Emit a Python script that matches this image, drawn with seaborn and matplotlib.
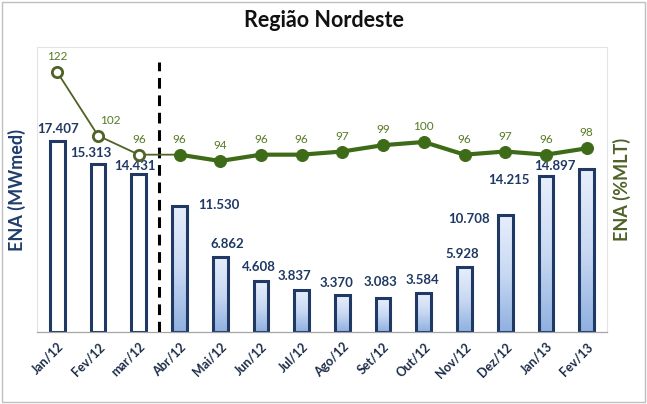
import numpy as np
import pandas as pd
import seaborn as sns
import matplotlib.pyplot as plt
from matplotlib.patches import Rectangle

meses = ['Jan/12', 'Fev/12', 'mar/12', 'Abr/12', 'Mai/12', 'Jun/12', 'Jul/12',
         'Ago/12', 'Set/12', 'Out/12', 'Nov/12', 'Dez/12', 'Jan/13', 'Fev/13']
ena_mwmed = [17407, 15313, 14431, 11530, 6862, 4608, 3837,
             3370, 3083, 3584, 5928, 10708, 14215, 14897]
ena_mlt = [122, 102, 96, 96, 94, 96, 96, 97, 99, 100, 96, 97, 96, 98]
n_verificado = 3  # primeiros meses (barras brancas / marcadores vazados)

# deslocamento dos rotulos das barras (pixels, centro do texto) - ajustados a mao
desloc_barras = [(1, 11), (-7, 10), (-4, 7), (39, 0), (7, 12), (-2, 13), (-7, 13),
                 (-6, 11), (-3, 15), (-1, 12), (-2, 12), (-36, -5), (-37, -5), (-32, 2)]

azul = '#1F3864'
verde = '#3E6B18'
verde_rot = '#557A22'

sns.set_style('white')
plt.rcParams['font.family'] = ['Lato', 'DejaVu Sans']

df = pd.DataFrame({'mes': meses, 'ena': ena_mwmed, 'mlt': ena_mlt})
df['pos'] = np.arange(len(df))

fig = plt.figure(figsize=(6.47, 4.04), dpi=100)
ax = fig.add_axes([37 / 647, 72 / 404, 570 / 647, 285 / 404])

sns.barplot(data=df, x='mes', y='ena', color='white', edgecolor=azul,
            linewidth=2.2, width=0.36, saturation=1, ax=ax)

# gradiente nas barras de abril em diante
grad = np.linspace(0, 1, 256).reshape(-1, 1)
cmap = sns.blend_palette(['#E8EFFC', '#C9D9F3', '#8FB0E0'], as_cmap=True)
for i, p in enumerate(ax.patches):
    p.set_zorder(2)
    if i < n_verificado:
        continue
    x0, y0 = p.get_x(), p.get_y()
    w, h = p.get_width(), p.get_height()
    im = ax.imshow(grad, cmap=cmap, aspect='auto', origin='upper',
                   extent=(x0, x0 + w, y0, y0 + h), zorder=1.5)
    im.set_clip_path(p)
    p.set_facecolor('none')

for i, v in enumerate(ena_mwmed):
    dx, dy = desloc_barras[i]
    ax.annotate(f'{v:,}'.replace(',', '.'), (i, v), xytext=(dx, dy + 1),
                textcoords='offset pixels', ha='center', va='center',
                fontsize=9.5, fontweight='bold', color=azul, zorder=5)

ax.set_xlim(-0.5, len(meses) - 0.5)
ax.set_ylim(0, 26000)
ax.set_yticks([])
ax.set_xlabel('')
ax.set_ylabel('ENA (MWmed)', fontsize=13, fontweight='bold', color='#1F3D6B')
ax.yaxis.set_label_coords(-0.019, 0.5)

ax.axvline(2.5, ymax=0.947, color='black', linestyle=(0, (3.5, 2.2)), linewidth=2.2, zorder=4)

plt.setp(ax.get_xticklabels(), rotation=45, ha='right', rotation_mode='anchor',
         fontsize=9, fontweight='bold', color='#1B2B48')
ax.tick_params(axis='x', which='major', length=0, pad=6)
ax.set_xticks(np.arange(-0.5, len(meses)), minor=True)
ax.tick_params(axis='x', which='minor', length=4, color='#A6A6A6', direction='out')

for lado in ['top', 'left', 'right']:
    ax.spines[lado].set_color('#E3E3E3')
    ax.spines[lado].set_linewidth(0.8)
ax.spines['bottom'].set_color('#A6A6A6')
ax.spines['bottom'].set_linewidth(0.9)

# eixo secundario - %MLT
ax2 = ax.twinx()
sns.lineplot(data=df.iloc[:n_verificado + 1], x='pos', y='mlt', color='#4F6228',
             linewidth=1.3, ax=ax2)
sns.lineplot(data=df.iloc[n_verificado:], x='pos', y='mlt', color=verde,
             linewidth=3, ax=ax2)
sns.scatterplot(data=df.iloc[:n_verificado], x='pos', y='mlt', marker='o', s=55,
                facecolor='white', edgecolor='#4F6228', linewidth=2, ax=ax2, zorder=5)
sns.scatterplot(data=df.iloc[n_verificado:], x='pos', y='mlt', marker='o', s=75,
                color=verde, edgecolor=verde, ax=ax2, zorder=5)

for i, v in enumerate(ena_mlt):
    dx = 12 if i == 1 else 0
    ax2.annotate(str(v), (i, v), xytext=(dx, 10), textcoords='offset pixels',
                 ha='center', va='bottom', fontsize=8.5, color=verde_rot)

ax2.set_ylim(40, 130)
ax2.set_xlim(-0.5, len(meses) - 0.5)
ax2.set_yticks([])
ax2.set_xlabel('')
ax2.set_ylabel('ENA (%MLT)', fontsize=13, fontweight='bold', color='#4F6228')
ax2.yaxis.set_label_coords(1.011, 0.5)
for lado in ax2.spines:
    ax2.spines[lado].set_visible(False)

fig.suptitle('Região Nordeste', y=0.975, fontsize=15.5, fontweight='bold', color='#111111')
fig.patches.append(Rectangle((0.003, 0.004), 0.994, 0.992, transform=fig.transFigure,
                             fill=False, edgecolor='#BFBFBF', linewidth=1))

fig.savefig('out.png', dpi=100)
